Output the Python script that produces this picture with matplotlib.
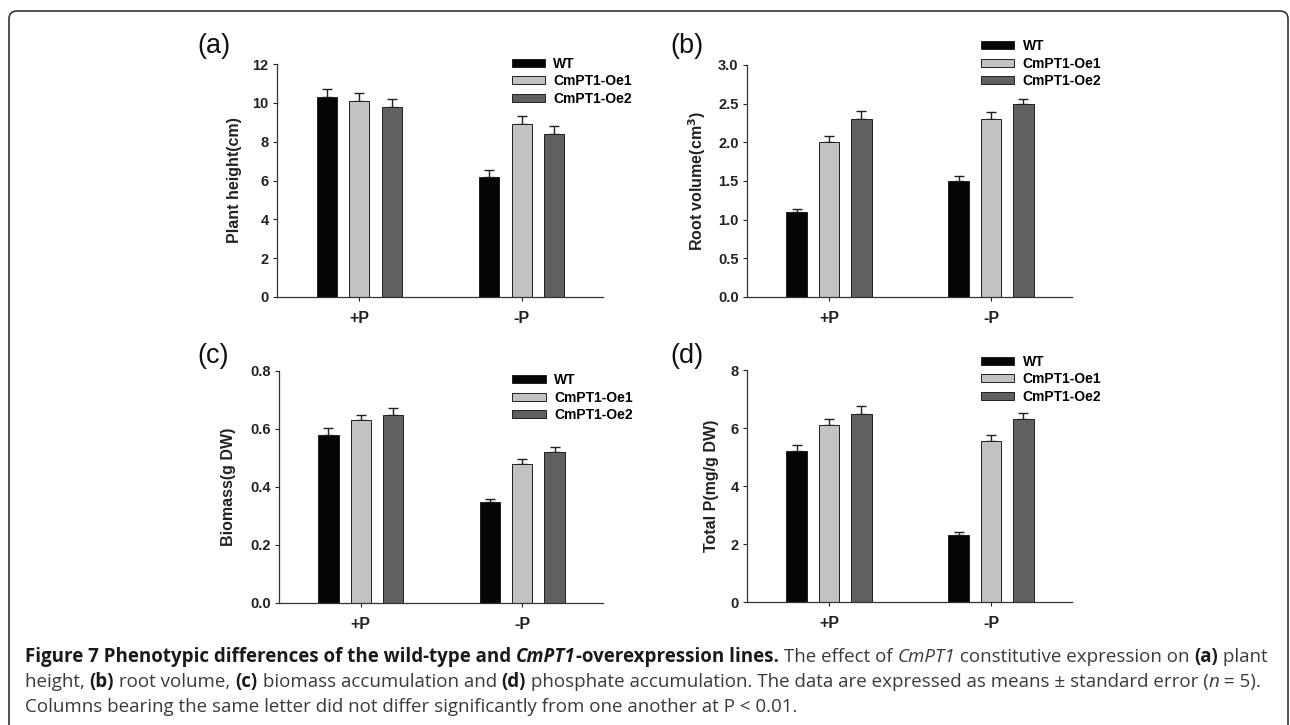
import matplotlib
matplotlib.use("Agg")
import matplotlib.pyplot as plt
from matplotlib.patches import FancyBboxPatch
from matplotlib.transforms import IdentityTransform
from matplotlib.font_manager import FontProperties
import numpy as np

plt.rcParams["font.family"] = ["Liberation Sans", "DejaVu Sans"]
plt.rcParams["font.weight"] = "bold"

groups = ["+P", "-P"]
lines = ["WT", "CmPT1-Oe1", "CmPT1-Oe2"]
colors = ["#050505", "#c2c2c2", "#606060"]

# means per line, order: +P, -P
height_mean = [[10.3, 6.2], [10.1, 8.9], [9.8, 8.4]]
height_err = [[0.42, 0.32], [0.42, 0.40], [0.40, 0.40]]
root_mean = [[1.1, 1.5], [2.0, 2.3], [2.3, 2.5]]
root_err = [[0.04, 0.06], [0.08, 0.09], [0.10, 0.06]]
biomass_mean = [[0.58, 0.35], [0.63, 0.48], [0.65, 0.52]]
biomass_err = [[0.025, 0.01], [0.02, 0.015], [0.022, 0.018]]
totalp_mean = [[5.2, 2.3], [6.1, 5.55], [6.5, 6.3]]
totalp_err = [[0.22, 0.12], [0.2, 0.2], [0.25, 0.22]]

panels = [
    # label, ylabel, means, errs, ylim, ticks, fmt
    ("(a)", "Plant height(cm)", height_mean, height_err, 12, np.arange(0, 13, 2), "{:.0f}"),
    ("(b)", "Root volume(cm$^\\mathbf{3}$)", root_mean, root_err, 3.0, np.arange(0, 3.01, 0.5), "{:.1f}"),
    ("(c)", "Biomass(g DW)", biomass_mean, biomass_err, 0.8, np.arange(0, 0.81, 0.2), "{:.1f}"),
    ("(d)", "Total P(mg/g DW)", totalp_mean, totalp_err, 8, np.arange(0, 8.1, 2), "{:.0f}"),
]

W, H = 1290, 725
fig = plt.figure(figsize=(W / 100, H / 100), dpi=100)

# axes boxes in pixels: left, top, right, bottom
boxes = [(277, 64, 603, 297), (747, 65, 1072, 297),
         (279, 371, 603, 603), (747, 370, 1072, 602)]
label_pos = [(197, 53), (670, 53), (197, 363), (670, 363)]
ylabel_x = [-0.130, -0.154, -0.157, -0.108]
legend_anchor = [(0.72, 1.031), (0.72, 1.111), (0.72, 0.991), (0.72, 1.066)]

x = np.arange(len(groups))
offsets = [-0.2, 0.0, 0.2]
bw = 0.125

for i, (lab, ylab, means, errs, ymax, ticks, fmt) in enumerate(panels):
    l, t, r, b = boxes[i]
    ax = fig.add_axes([l / W, 1 - b / H, (r - l) / W, (b - t) / H])
    for j in range(len(lines)):
        ax.bar(x + offsets[j], means[j], bw, color=colors[j], edgecolor="#202020",
               linewidth=0.7, label=lines[j], zorder=2)
        ax.errorbar(x + offsets[j], means[j], yerr=[np.zeros(2), errs[j]], fmt="none",
                    ecolor="#202020", elinewidth=1.0, capsize=3.5, capthick=1.0, zorder=1)
    ax.set_xlim(-0.506, 1.5)
    ax.set_ylim(0, ymax)
    ax.set_yticks(ticks)
    ax.set_yticklabels([fmt.format(v) for v in ticks])
    ax.set_xticks(x)
    ax.set_xticklabels(groups)
    ax.spines["top"].set_visible(False)
    ax.spines["right"].set_visible(False)
    for s in ("left", "bottom"):
        ax.spines[s].set_linewidth(0.9)
        ax.spines[s].set_color("#333333")
    ax.tick_params(axis="y", direction="out", length=3, width=0.8, pad=3,
                   labelsize=10.5, colors="#222222")
    ax.tick_params(axis="x", direction="out", length=3, width=0.8, pad=7,
                   labelsize=11.5, colors="#222222")
    ax.text(ylabel_x[i], 0.5, ylab, transform=ax.transAxes, rotation=90,
            ha="center", va="center", fontsize=11.5, fontweight="bold", color="#222222")
    ax.legend(loc="upper left", bbox_to_anchor=legend_anchor[i], frameon=False,
              fontsize=10, handlelength=2.4, handleheight=0.5, handletextpad=0.6,
              labelspacing=0.25, borderpad=0, borderaxespad=0)
    lx, ly = label_pos[i]
    fig.text(lx / W, 1 - ly / H, lab, fontsize=19.5, fontweight="normal",
             ha="left", va="baseline", color="#111111")

# frame around the figure
frame = FancyBboxPatch((9, -30), 1279, 744, boxstyle="round,pad=0,rounding_size=8",
                       transform=IdentityTransform(), facecolor="none",
                       edgecolor="#333333", linewidth=1.2)
fig.patches.append(frame)

# caption with mixed styles
cap_font = "Open Sans"
caption = [
    [("Figure 7 Phenotypic differences of the wild-type and ", "bold", "normal"),
     ("CmPT1", "bold", "italic"),
     ("-overexpression lines.", "bold", "normal"),
     (" The effect of ", "normal", "normal"),
     ("CmPT1", "normal", "italic"),
     (" constitutive expression on ", "normal", "normal"),
     ("(a)", "bold", "normal"),
     (" plant", "normal", "normal")],
    [("height, ", "normal", "normal"),
     ("(b)", "bold", "normal"),
     (" root volume, ", "normal", "normal"),
     ("(c)", "bold", "normal"),
     (" biomass accumulation and ", "normal", "normal"),
     ("(d)", "bold", "normal"),
     (" phosphate accumulation. The data are expressed as means \u00b1 standard error (", "normal", "normal"),
     ("n", "normal", "italic"),
     (" = 5).", "normal", "normal")],
    [("Columns bearing the same letter did not differ significantly from one another at P < 0.01.",
      "normal", "normal")],
]
baselines = [662, 687, 712]
renderer = fig.canvas.get_renderer()
cap_size = 13.5


def run_width(s, prop):
    w1, _, _ = renderer.get_text_width_height_descent(s + "|", prop, ismath=False)
    w2, _, _ = renderer.get_text_width_height_descent("|", prop, ismath=False)
    return w1 - w2


for line, yb in zip(caption, baselines):
    xpos = 25
    for s, wt, st in line:
        prop = FontProperties(family=[cap_font, "DejaVu Sans"], weight=wt, style=st, size=cap_size)
        col = "#1a1a1a" if wt == "bold" else "#3a3a3a"
        fig.text(xpos / W, 1 - yb / H, s, fontproperties=prop, ha="left",
                 va="baseline", color=col)
        xpos += run_width(s, prop)

fig.savefig("out.png", dpi=100)
